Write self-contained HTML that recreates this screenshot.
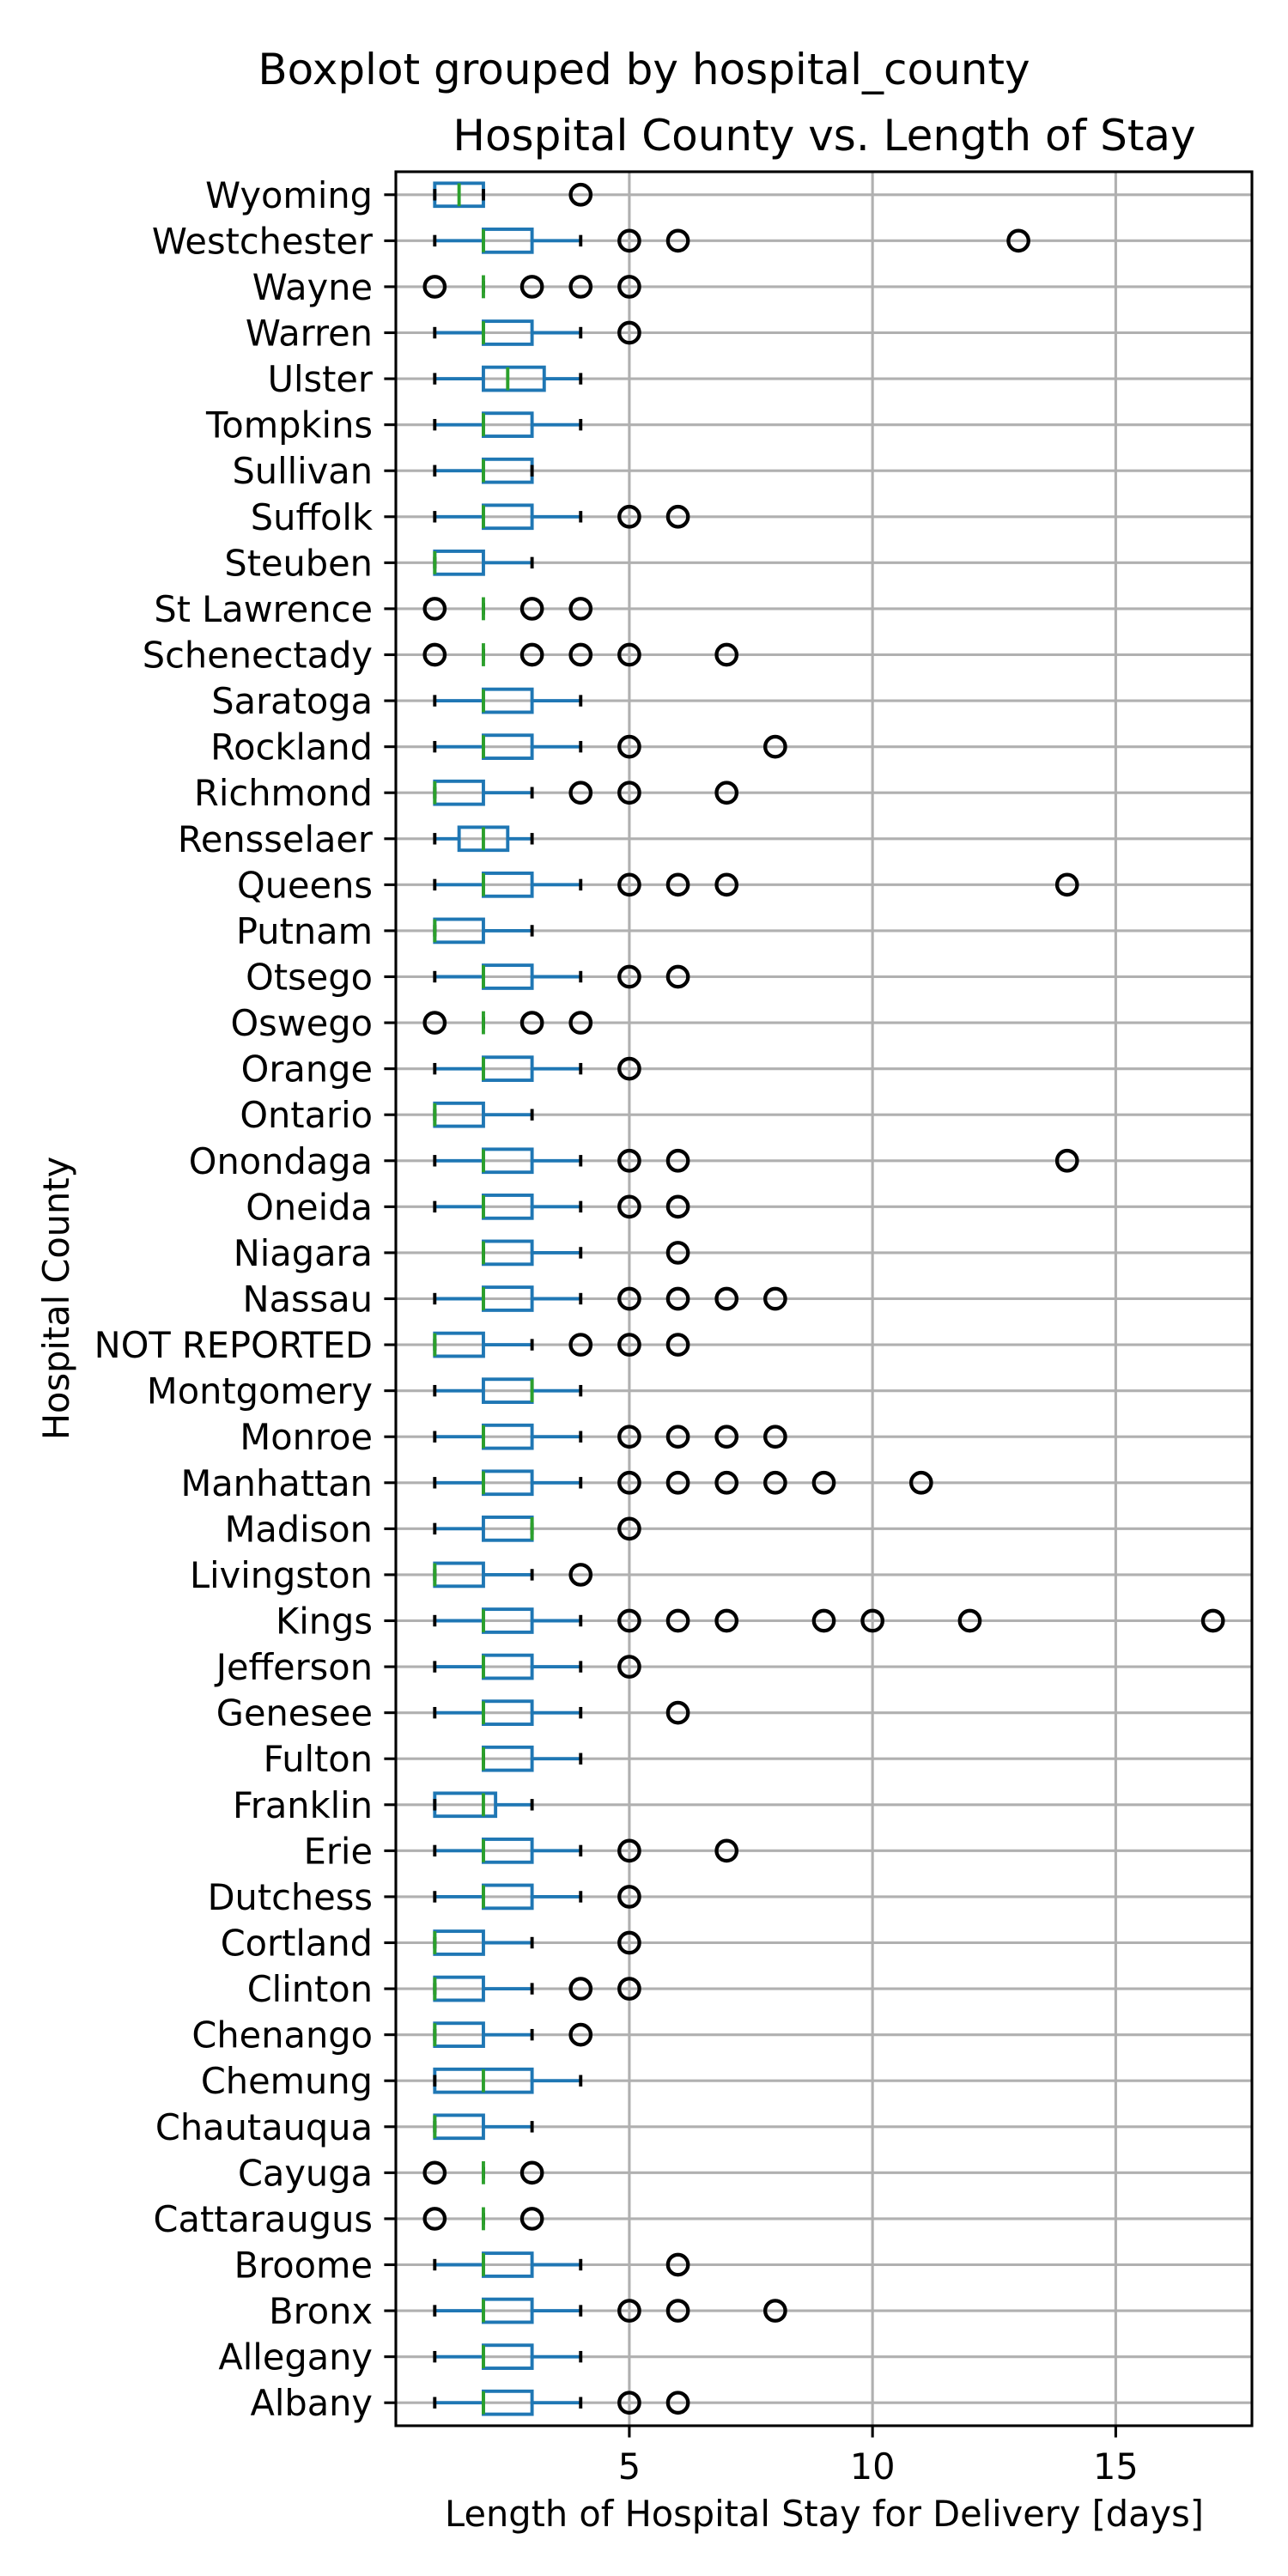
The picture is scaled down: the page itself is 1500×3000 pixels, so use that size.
<!DOCTYPE html>
<html><head><meta charset="utf-8"><style>
html,body{margin:0;padding:0;background:#fff;}
svg{display:block;font-family:"DejaVu Sans","Liberation Sans",sans-serif;}
</style></head><body>
<svg id="chart" width="1500" height="3000" xmlns="http://www.w3.org/2000/svg">
<text x="750" y="98" font-size="50" text-anchor="middle">Boxplot grouped by hospital_county</text>
<text x="960" y="175" font-size="50" text-anchor="middle">Hospital County vs. Length of Stay</text>
<text x="960" y="2942" font-size="41.5" text-anchor="middle">Length of Hospital Stay for Delivery [days]</text>
<text x="0" y="0" font-size="41.5" text-anchor="middle" transform="translate(80,1512) rotate(-90)">Hospital County</text>
<g id="plot"></g>
</svg>
<script>
const categories=["Albany","Allegany","Bronx","Broome","Cattaraugus","Cayuga","Chautauqua","Chemung","Chenango","Clinton","Cortland","Dutchess","Erie","Franklin","Fulton","Genesee","Jefferson","Kings","Livingston","Madison","Manhattan","Monroe","Montgomery","NOT REPORTED","Nassau","Niagara","Oneida","Onondaga","Ontario","Orange","Oswego","Otsego","Putnam","Queens","Rensselaer","Richmond","Rockland","Saratoga","Schenectady","St Lawrence","Steuben","Suffolk","Sullivan","Tompkins","Ulster","Warren","Wayne","Westchester","Wyoming"];
const whiskerLow=[1,1,1,1,2,2,1,1,1,1,1,1,1,1,2,1,1,1,1,1,1,1,1,1,1,2,1,1,1,1,2,1,1,1,1,1,1,1,2,2,1,1,1,1,1,1,2,1,1];
const q1=[2,2,2,2,2,2,1,1,1,1,1,2,2,1,2,2,2,2,1,2,2,2,2,1,2,2,2,2,1,2,2,2,1,2,1.5,1,2,2,2,2,1,2,2,2,2,2,2,2,1];
const medians=[2,2,2,2,2,2,1,2,1,1,1,2,2,2,2,2,2,2,1,3,2,2,3,1,2,2,2,2,1,2,2,2,1,2,2,1,2,2,2,2,1,2,2,2,2.5,2,2,2,1.5];
const q3=[3,3,3,3,2,2,2,3,2,2,2,3,3,2.25,3,3,3,3,2,3,3,3,3,2,3,3,3,3,2,3,2,3,2,3,2.5,2,3,3,2,2,2,3,3,3,3.25,3,2,3,2];
const whiskerHigh=[4,4,4,4,2,2,3,4,3,3,3,4,4,3,4,4,4,4,3,3,4,4,4,3,4,4,4,4,3,4,2,4,3,4,3,3,4,4,2,2,3,4,3,4,4,4,2,4,2];
const fliers=[[5,6],[],[5,6,8],[6],[1,3],[1,3],[],[],[4],[4,5],[5],[5],[5,7],[],[],[6],[5],[5,6,7,9,10,12,17],[4],[5],[5,6,7,8,9,11],[5,6,7,8],[],[4,5,6],[5,6,7,8],[6],[5,6],[5,6,14],[],[5],[1,3,4],[5,6],[],[5,6,7,14],[],[4,5,7],[5,8],[],[1,3,4,5,7],[1,3,4],[],[5,6],[],[],[],[5],[1,3,4,5],[5,6,13],[4]];
const xTicks=[5,10,15];

const L=461,R=1458,T=200,B=2825,xmin=0.2,xmax=17.8;
const n=categories.length;
const xs=v=>L+(v-xmin)/(xmax-xmin)*(R-L);
const ys=i=>B-(i+0.5)*(B-T)/n;
const rowH=(B-T)/n;
const NS="http://www.w3.org/2000/svg";
const g=document.getElementById('plot');
function mk(tag,attrs,parent){const e=document.createElementNS(NS,tag);for(const k in attrs)e.setAttribute(k,attrs[k]);(parent||g).appendChild(e);return e;}

const grid=mk('g',{});


xTicks.forEach(t=>{const l=mk('line',{x1:xs(t),x2:xs(t),y1:T,y2:B,stroke:'#b0b0b0','stroke-width':3.1},grid);

});
categories.forEach((c,i)=>{const l=mk('line',{x1:L,x2:R,y1:ys(i),y2:ys(i),stroke:'#b0b0b0','stroke-width':3.1},grid);

});

categories.forEach((c,i)=>{
  const y=ys(i),h=rowH*0.5,cw=rowH*0.25;
  const bg=mk('g',{});
  
  
  mk('line',{x1:xs(whiskerLow[i]),x2:xs(q1[i]),y1:y,y2:y,stroke:'#1f77b4','stroke-width':3.9},bg);
  mk('line',{x1:xs(q3[i]),x2:xs(whiskerHigh[i]),y1:y,y2:y,stroke:'#1f77b4','stroke-width':3.9},bg);
  mk('rect',{x:xs(q1[i]),y:y-h/2,width:xs(q3[i])-xs(q1[i]),height:h,fill:'none',stroke:'#1f77b4','stroke-width':3.9},bg);
  mk('line',{x1:xs(whiskerLow[i]),x2:xs(whiskerLow[i]),y1:y-cw/2,y2:y+cw/2,stroke:'#000','stroke-width':3.9},bg);
  mk('line',{x1:xs(whiskerHigh[i]),x2:xs(whiskerHigh[i]),y1:y-cw/2,y2:y+cw/2,stroke:'#000','stroke-width':3.9},bg);
  mk('line',{x1:xs(medians[i]),x2:xs(medians[i]),y1:y-h/2,y2:y+h/2,stroke:'#2ca02c','stroke-width':3.9},bg);
  fliers[i].forEach(v=>{const f=mk('ellipse',{cx:xs(v),cy:y,rx:11.7,ry:11.7,fill:'none',stroke:'#000','stroke-width':4.3},bg);
    
    });
  const tk=mk('line',{x1:L-13.6,x2:L,y1:y,y2:y,stroke:'#000','stroke-width':3.1});
  
  
  const lb=mk('text',{x:L-27,y:y+15,'font-size':41.5,'text-anchor':'end'});
  lb.textContent=c;
  
  
});
xTicks.forEach(t=>{
  const tk=mk('line',{x1:xs(t),x2:xs(t),y1:B,y2:B+13.6,stroke:'#000','stroke-width':3.1});
  
  
  const lb=mk('text',{x:xs(t),y:2887,'font-size':41.5,'text-anchor':'middle'});
  lb.textContent=t;
  
  
});
const fr=mk('rect',{x:L,y:T,width:R-L,height:B-T,fill:'none',stroke:'#000','stroke-width':3.1});


</script>
</body></html>
